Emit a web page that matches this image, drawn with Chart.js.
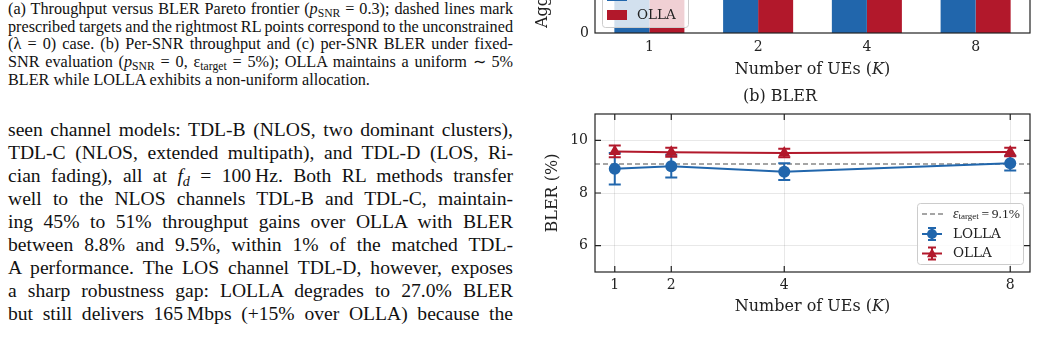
<!DOCTYPE html>
<html>
<head>
<meta charset="utf-8">
<script src="https://cdn.jsdelivr.net/npm/chart.js@4.4.1/dist/chart.umd.min.js"></script>
<style>
  html, body { margin: 0; padding: 0; background: #fff; }
  body { width: 1037px; height: 344px; overflow: hidden; position: relative; }
  .col { position: absolute; left: 8px; width: 505px; font-family: "Liberation Serif", "Times New Roman", serif; color: #111; }
  .cap { top: 1px; font-size: 16.2px; line-height: 17.7px; word-spacing: -1.5px; }
  .txt { top: 118px; font-size: 19.6px; line-height: 23px; }
  .ln { text-align: justify; text-align-last: justify; }
  .last { text-align: left; text-align-last: left; word-spacing: 0; }
  .col sub { font-size: 0.72em; line-height: 0; vertical-align: -0.25em; }
  .box { position: absolute; left: 530px; width: 507px; }
</style>
</head>
<body>

<div class="col cap">
  <div class="ln">(a) Throughput versus BLER Pareto frontier (<i>p</i><sub>SNR</sub> = 0.3); dashed lines mark</div>
  <div class="ln">prescribed targets and the rightmost RL points correspond to the unconstrained</div>
  <div class="ln">(λ = 0) case. (b) Per-SNR throughput and (c) per-SNR BLER under fixed-</div>
  <div class="ln">SNR evaluation (<i>p</i><sub>SNR</sub> = 0, ε<sub>target</sub> = 5%); OLLA maintains a uniform ∼ 5%</div>
  <div class="ln last">BLER while LOLLA exhibits a non-uniform allocation.</div>
</div>

<div class="col txt">
  <div class="ln">seen channel models: TDL-B (NLOS, two dominant clusters),</div>
  <div class="ln">TDL-C (NLOS, extended multipath), and TDL-D (LOS, Ri-</div>
  <div class="ln">cian fading), all at <i>f<sub>d</sub></i> = 100&#8201;Hz. Both RL methods transfer</div>
  <div class="ln">well to the NLOS channels TDL-B and TDL-C, maintain-</div>
  <div class="ln">ing 45% to 51% throughput gains over OLLA with BLER</div>
  <div class="ln">between 8.8% and 9.5%, within 1% of the matched TDL-</div>
  <div class="ln">A performance. The LOS channel TDL-D, however, exposes</div>
  <div class="ln">a sharp robustness gap: LOLLA degrades to 27.0% BLER</div>
  <div class="ln">but still delivers 165&#8201;Mbps (+15% over OLLA) because the</div>
</div>

<div class="box" style="top:-240px; height:320px;"><canvas id="thrChart" width="507" height="320"></canvas></div>
<div class="box" style="top:85px; height:259px;"><canvas id="blerChart" width="507" height="259"></canvas></div>

<script>
// ─── Data ─────────────────────────────────────────────────────────────────────
const ueCounts = [1, 2, 4, 8];
const ueLabels = ['1', '2', '4', '8'];

// (a) aggregate throughput, Mbps (bars run off the top of the crop)
const lollaThroughput = [205, 390, 560, 640];
const ollaThroughput = [140, 270, 385, 440];
const thrTicks = [0, 200, 400, 600];

// (b) BLER, %
const lollaBler = [8.92, 9.02, 8.81, 9.13];
const lollaErr = [0.60, 0.43, 0.32, 0.28];
const ollaBler = [9.58, 9.55, 9.52, 9.56];
const ollaErr = [0.22, 0.17, 0.16, 0.16];
const blerTarget = 9.1;
const blerTicks = [6, 8, 10];

const BLUE = '#2166ac';
const RED = '#b2182b';
const INK = '#222';
const SERIF = '"DejaVu Serif", serif';
const MATH = '"Liberation Serif", serif';

// ─── Helpers ──────────────────────────────────────────────────────────────────
function drawRuns(ctx, runs, x, y, align) {
  let w = 0;
  runs.forEach(r => { ctx.font = r.font; w += ctx.measureText(r.text).width; });
  let cx = align === 'center' ? x - w / 2 : x;
  ctx.textBaseline = 'middle';
  ctx.textAlign = 'left';
  runs.forEach(r => {
    ctx.font = r.font;
    ctx.fillText(r.text, cx, y + (r.dy || 0));
    cx += ctx.measureText(r.text).width;
  });
}

function marker(ctx, style, x, y, r, color) {
  ctx.fillStyle = color;
  ctx.beginPath();
  if (style === 'triangle') {
    ctx.moveTo(x, y - r * 1.1);
    ctx.lineTo(x + r, y + r * 0.75);
    ctx.lineTo(x - r, y + r * 0.75);
    ctx.closePath();
  } else {
    ctx.arc(x, y, r, 0, Math.PI * 2);
  }
  ctx.fill();
}

// ─── Plugins ──────────────────────────────────────────────────────────────────
const frameTicks = {
  id: 'frameTicks',
  afterDraw(chart, args, opts) {
    const { ctx, chartArea: a, scales } = chart;
    ctx.save();
    ctx.strokeStyle = INK;
    ctx.lineWidth = 1.2;
    if (opts.ticks) {
      const L = 6;
      ctx.beginPath();
      scales.x.ticks.forEach(t => {
        const px = scales.x.getPixelForValue(t.value);
        ctx.moveTo(px, a.bottom); ctx.lineTo(px, a.bottom - L);
        ctx.moveTo(px, a.top); ctx.lineTo(px, a.top + L);
      });
      scales.y.ticks.forEach(t => {
        const py = scales.y.getPixelForValue(t.value);
        ctx.moveTo(a.left, py); ctx.lineTo(a.left + L, py);
        ctx.moveTo(a.right, py); ctx.lineTo(a.right - L, py);
      });
      ctx.stroke();
    }
    ctx.strokeRect(a.left, a.top, a.width, a.height);
    ctx.restore();
  }
};

const axisTitle = {
  id: 'axisTitle',
  afterDraw(chart, args, opts) {
    const { ctx, chartArea: a, scales } = chart;
    ctx.save();
    ctx.fillStyle = INK;
    drawRuns(ctx, opts.runs, (a.left + a.right) / 2, scales.x.bottom - opts.offset, 'center');
    ctx.restore();
  }
};

const errorBars = {
  id: 'errorBars',
  beforeDatasetsDraw(chart, args, opts) {
    const { ctx, chartArea: a, scales: { x, y } } = chart;
    ctx.save();
    // target line
    const ty = y.getPixelForValue(opts.target);
    ctx.strokeStyle = '#888';
    ctx.lineWidth = 1.5;
    ctx.setLineDash([5, 3]);
    ctx.beginPath(); ctx.moveTo(a.left, ty); ctx.lineTo(a.right, ty); ctx.stroke();
    ctx.setLineDash([]);
    chart.data.datasets.forEach(ds => {
      if (!ds.errors) return;
      ctx.strokeStyle = ds.borderColor;
      ctx.lineWidth = 2;
      ctx.beginPath();
      ds.data.forEach((p, i) => {
        const px = x.getPixelForValue(p.x);
        const top = y.getPixelForValue(p.y + ds.errors[i]);
        const bot = y.getPixelForValue(p.y - ds.errors[i]);
        ctx.moveTo(px, top); ctx.lineTo(px, bot);
        ctx.moveTo(px - 6, top); ctx.lineTo(px + 6, top);
        ctx.moveTo(px - 6, bot); ctx.lineTo(px + 6, bot);
      });
      ctx.stroke();
    });
    ctx.restore();
  }
};

function legendBox(ctx, l, t, w, h) {
  ctx.fillStyle = 'rgba(255,255,255,0.8)';
  ctx.strokeStyle = '#cccccc';
  ctx.lineWidth = 1;
  ctx.beginPath();
  ctx.roundRect(l + 0.5, t + 0.5, w, h, 3);
  ctx.fill();
  ctx.stroke();
}

const barLegend = {
  id: 'barLegend',
  afterDraw(chart) {
    const { ctx, chartArea: a } = chart;
    const ds = chart.data.datasets;
    const rowH = 19, l = a.left + 7, b = a.bottom - 6;
    const t = b - 12 - (ds.length - 1) * rowH - 12;
    ctx.save();
    legendBox(ctx, l, t, 86, b - t);
    ds.forEach((d, i) => {
      const cy = b - 12 - (ds.length - 1 - i) * rowH;
      ctx.fillStyle = d.backgroundColor;
      ctx.fillRect(l + 5, cy - 5, 20, 10);
      ctx.fillStyle = INK;
      drawRuns(ctx, [{ text: d.label, font: '13.5px ' + SERIF }], l + 35, cy, 'left');
    });
    ctx.restore();
  }
};

const lineLegend = {
  id: 'lineLegend',
  afterDraw(chart) {
    const { ctx, chartArea: a } = chart;
    const w = 106, h = 61;
    const l = a.right - 7 - w, t = a.bottom - 8 - h;
    ctx.save();
    legendBox(ctx, l, t, w, h);
    // target entry
    let cy = t + 11;
    ctx.strokeStyle = '#888';
    ctx.lineWidth = 1.5;
    ctx.setLineDash([5, 3]);
    ctx.beginPath(); ctx.moveTo(l + 5, cy); ctx.lineTo(l + 26, cy); ctx.stroke();
    ctx.setLineDash([]);
    ctx.fillStyle = INK;
    drawRuns(ctx, [
      { text: 'ε', font: 'italic 14px ' + MATH },
      { text: 'target', font: '9px ' + MATH, dy: 3 },
      { text: '\u2009=\u20099.1%', font: '13.5px ' + MATH }
    ], l + 36, cy, 'left');
    // series entries
    chart.data.datasets.forEach((d, i) => {
      cy = t + 31 + i * 19.5;
      const cx = l + 15;
      ctx.strokeStyle = d.borderColor;
      ctx.lineWidth = 2;
      ctx.beginPath();
      ctx.moveTo(l + 5, cy); ctx.lineTo(l + 25, cy);
      ctx.moveTo(cx, cy - 6); ctx.lineTo(cx, cy + 6);
      ctx.moveTo(cx - 4, cy - 6); ctx.lineTo(cx + 4, cy - 6);
      ctx.moveTo(cx - 4, cy + 6); ctx.lineTo(cx + 4, cy + 6);
      ctx.stroke();
      marker(ctx, d.pointStyle, cx, cy, 5, d.borderColor);
      ctx.fillStyle = INK;
      drawRuns(ctx, [{ text: d.label, font: '13.5px ' + SERIF }], l + 36, cy, 'left');
    });
    ctx.restore();
  }
};

const ueTitle = [
  { text: 'Number of UEs (', font: '16px ' + SERIF },
  { text: 'K', font: 'italic 16px ' + SERIF },
  { text: ')', font: '16px ' + SERIF }
];
const tickFont = { family: SERIF, size: 14 };

// ─── (a) Throughput bars ─────────────────────────────────────────────────────
new Chart(document.getElementById('thrChart'), {
  type: 'bar',
  data: {
    labels: ueLabels,
    datasets: [
      { label: 'LOLLA', data: lollaThroughput, backgroundColor: BLUE, categoryPercentage: 0.644, barPercentage: 1 },
      { label: 'OLLA', data: ollaThroughput, backgroundColor: RED, categoryPercentage: 0.644, barPercentage: 1 }
    ]
  },
  options: {
    responsive: false, animation: false, devicePixelRatio: 1,
    layout: { padding: { top: 10, right: 7, left: 0, bottom: 0 } },
    plugins: {
      legend: { display: false }, tooltip: { enabled: false },
      frameTicks: { ticks: false },
      axisTitle: { runs: ueTitle, offset: 10 }
    },
    scales: {
      x: {
        grid: { display: false, drawTicks: false }, border: { display: false },
        ticks: { color: INK, font: tickFont, padding: 6 },
        afterFit: s => { s.height = 47; }
      },
      y: {
        min: 0, max: 700,
        afterBuildTicks: s => { s.ticks = thrTicks.map(v => ({ value: v })); },
        grid: { display: false, drawTicks: false }, border: { display: false },
        ticks: { color: INK, font: tickFont, padding: 6 },
        title: { display: true, text: 'Aggregate Throughput (Mbps)', color: INK, font: { family: SERIF, size: 16 }, padding: { top: 3.4 } },
        afterFit: s => { s.width = 65; }
      }
    }
  },
  plugins: [frameTicks, barLegend, axisTitle]
});

// ─── (b) BLER lines ──────────────────────────────────────────────────────────
new Chart(document.getElementById('blerChart'), {
  type: 'line',
  data: {
    datasets: [
      {
        label: 'LOLLA', data: ueCounts.map((k, i) => ({ x: k, y: lollaBler[i] })), errors: lollaErr,
        borderColor: BLUE, backgroundColor: BLUE, borderWidth: 2,
        pointStyle: 'circle', pointRadius: 6, pointBorderWidth: 0
      },
      {
        label: 'OLLA', data: ueCounts.map((k, i) => ({ x: k, y: ollaBler[i] })), errors: ollaErr,
        borderColor: RED, backgroundColor: RED, borderWidth: 2,
        pointStyle: 'triangle', pointRadius: 7, pointBorderWidth: 0
      }
    ]
  },
  options: {
    responsive: false, animation: false, devicePixelRatio: 1,
    layout: { padding: { top: 0, right: 7, left: 0, bottom: 0 } },
    plugins: {
      legend: { display: false }, tooltip: { enabled: false },
      title: { display: true, text: '(b) BLER', color: INK, font: { family: SERIF, size: 16, weight: 'normal' }, padding: { top: 2.4, bottom: 7.4 } },
      frameTicks: { ticks: true },
      errorBars: { target: blerTarget },
      axisTitle: { runs: ueTitle, offset: 37 }
    },
    scales: {
      x: {
        type: 'linear', min: 0.65, max: 8.35,
        afterBuildTicks: s => { s.ticks = ueCounts.map(v => ({ value: v })); },
        grid: { color: 'rgba(0,0,0,0.09)', drawTicks: false }, border: { display: false },
        ticks: { color: INK, font: tickFont, padding: 5 },
        afterFit: s => { s.height = 72; }
      },
      y: {
        min: 5, max: 11,
        afterBuildTicks: s => { s.ticks = blerTicks.map(v => ({ value: v })); },
        grid: { color: 'rgba(0,0,0,0.09)', drawTicks: false }, border: { display: false },
        ticks: { color: INK, font: tickFont, padding: 7 },
        title: { display: true, text: 'BLER (%)', color: INK, font: { family: SERIF, size: 16 }, padding: { top: 13.4 } },
        afterFit: s => { s.width = 65; }
      }
    }
  },
  plugins: [errorBars, frameTicks, lineLegend, axisTitle]
});
</script>
</body>
</html>
